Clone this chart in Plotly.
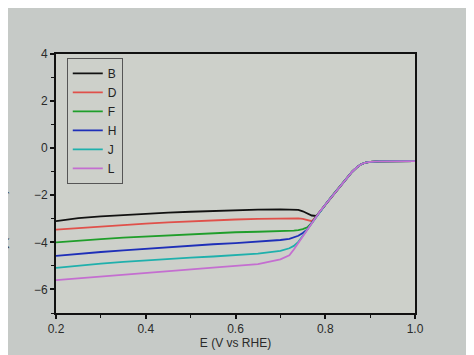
import plotly.graph_objects as go

# Potential (V vs RHE)
E = [0.20, 0.25, 0.30, 0.35, 0.40, 0.45, 0.50, 0.55, 0.60, 0.65, 0.70, 0.72, 0.73, 0.74, 0.75,
     0.76, 0.77, 0.78, 0.79, 0.80, 0.81, 0.82, 0.83, 0.84, 0.85, 0.86, 0.87, 0.88, 0.89, 0.90,
     0.92, 0.94, 0.96, 0.98, 1.00]

# shared tail (after the curves merge), E >= 0.79
tail = [-2.64, -2.40, -2.16, -1.92, -1.68, -1.45, -1.22, -1.00, -0.82, -0.68, -0.61, -0.58,
        -0.56, -0.56, -0.55, -0.55, -0.55]

B = [-3.10, -2.97, -2.90, -2.84, -2.79, -2.74, -2.70, -2.66, -2.63, -2.61, -2.60, -2.60, -2.60,
     -2.62, -2.68, -2.78, -2.86, -2.88] + tail
D = [-3.46, -3.39, -3.32, -3.26, -3.20, -3.15, -3.10, -3.06, -3.03, -3.00, -2.98, -2.98, -2.98,
     -2.98, -3.00, -3.05, -3.10, -2.90] + tail
F = [-4.00, -3.92, -3.86, -3.80, -3.75, -3.70, -3.65, -3.61, -3.57, -3.55, -3.53, -3.52, -3.50,
     -3.48, -3.44, -3.36, -3.17, -2.90] + tail
H = [-4.57, -4.48, -4.41, -4.34, -4.27, -4.20, -4.14, -4.08, -4.03, -3.98, -3.90, -3.85, -3.80,
     -3.72, -3.60, -3.45, -3.17, -2.90] + tail
J = [-5.08, -4.98, -4.90, -4.83, -4.76, -4.70, -4.65, -4.60, -4.55, -4.48, -4.36, -4.25, -4.15,
     -3.98, -3.72, -3.45, -3.17, -2.90] + tail
L = [-5.60, -5.52, -5.45, -5.37, -5.30, -5.22, -5.15, -5.07, -5.00, -4.92, -4.72, -4.55, -4.30,
     -4.02, -3.72, -3.45, -3.17, -2.90] + tail

names = ["B", "D", "F", "H", "J", "L"]
series = [B, D, F, H, J, L]
colors = ["#111111", "#e0504a", "#1f9e2a", "#1e2fb8", "#1fb0ac", "#c46ed0"]

xticks = [0.2, 0.4, 0.6, 0.8, 1.0]
yticks = [-6, -4, -2, 0, 2, 4]

fig = go.Figure()
for n, s, c in zip(names, series, colors):
    fig.add_trace(go.Scatter(x=E, y=s, mode="lines", name=n,
                             line=dict(color=c, width=1.8)))

axis_common = dict(showline=True, linecolor="#111", linewidth=1.8, mirror=True,
                   ticks="outside", ticklen=4, tickwidth=1.5, tickcolor="#111",
                   showgrid=False, zeroline=False,
                   minor=dict(ticks="outside", ticklen=3, tickcolor="#111", tickwidth=1.2),
                   tickfont=dict(family="Liberation Sans, Arial", size=12, color="#2a2a2a"))

fig.update_xaxes(range=[0.2, 1.0], tickvals=xticks, ticktext=["0.2", "0.4", "0.6", "0.8", "1.0"],
                 title=dict(text="E (V vs RHE)", standoff=0,
                            font=dict(family="Liberation Sans, Arial", size=12, color="#2a2a2a")),
                 **axis_common)
fig.update_yaxes(range=[-7, 4], tickvals=yticks, **axis_common)
fig.update_xaxes(minor=dict(dtick=0.1, tick0=0.2))
fig.update_yaxes(minor=dict(dtick=1, tick0=0))

fig.add_annotation(text="j (mA cm<sup>-2</sup>)", textangle=-90, xref="paper", yref="paper",
                   x=-0.125, y=0.36, xanchor="right", yanchor="middle", showarrow=False,
                   font=dict(family="Liberation Sans, Arial", size=12, color="#2a2a2a"))

fig.update_layout(
    width=474, height=355,
    margin=dict(l=48, r=67, t=46, b=50),
    paper_bgcolor="#c6cac7",
    plot_bgcolor="#cdd0ca",
    showlegend=True,
    legend=dict(x=0.03, y=0.985, xanchor="left", yanchor="top",
                bgcolor="rgba(0,0,0,0)", bordercolor="#555", borderwidth=1,
                font=dict(family="Liberation Sans, Arial", size=12, color="#222"),
                tracegroupgap=0, itemwidth=30),
)

fig.write_html("out.html")
